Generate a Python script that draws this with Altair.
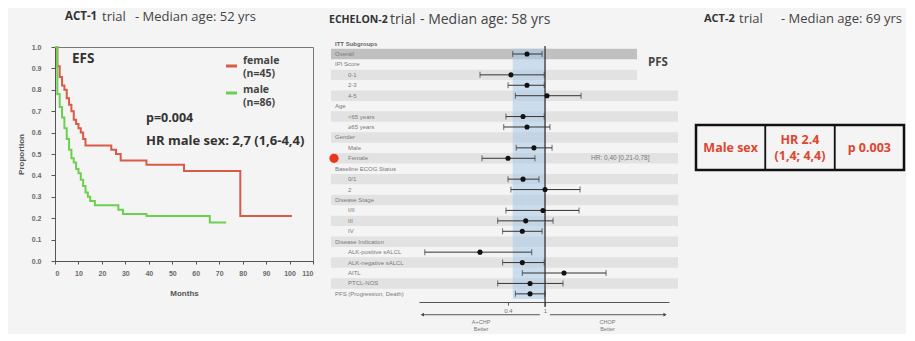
import altair as alt
import pandas as pd

# ---------------- ACT-1 : EFS Kaplan-Meier (months, proportion) ----------------
female_t = [0, 1, 2, 3, 4, 5, 6, 7, 8, 9, 10, 11, 12, 13, 24, 26, 28, 39, 55, 79, 101]
female_s = [1.0, 0.91, 0.86, 0.82, 0.80, 0.76, 0.73, 0.70, 0.66, 0.64, 0.62, 0.60,
            0.57, 0.54, 0.52, 0.50, 0.47, 0.45, 0.42, 0.21, 0.21]
male_t = [0, 1, 2, 3, 4, 5, 6, 7, 8, 9, 10, 11, 12, 13, 14, 15, 17, 27, 29, 39, 66, 73]
male_s = [1.0, 0.78, 0.72, 0.67, 0.62, 0.57, 0.52, 0.48, 0.46, 0.43, 0.41, 0.38,
          0.35, 0.32, 0.30, 0.28, 0.26, 0.24, 0.22, 0.21, 0.18, 0.18]
groups = ["female", "male"]
group_n = [45, 86]
group_colors = ["#d95b47", "#6dcf4f"]
km_ticks_x = list(range(0, 111, 10))
km_ticks_y = [i / 10 for i in range(11)]

# ---------------- ECHELON-2 : PFS forest plot (hazard ratios) ----------------
subgroups = ["Overall", "IPI Score", "0-1", "2-3", "4-5", "Age", "<65 years", "≥65 years",
             "Gender", "Male", "Female", "Baseline ECOG Status", "0/1", "2", "Disease Stage",
             "I/II", "III", "IV", "Disease Indication", "ALK-positive sALCL",
             "ALK-negative sALCL", "AITL", "PTCL-NOS", "PFS (Progression, Death)"]
indent = [0, 0, 1, 1, 1, 0, 1, 1, 0, 1, 1, 0, 1, 1, 0, 1, 1, 1, 0, 1, 1, 1, 1, 0]
hr = [0.64, None, 0.43, 0.64, 1.05, None, 0.58, 0.64, None, 0.76, 0.40, None, 0.58, 1.00,
      None, 0.95, 0.62, 0.57, None, 0.20, 0.57, 1.60, 0.69, 0.69]
hr_lo = [0.45, None, 0.20, 0.40, 0.48, None, 0.38, 0.36, None, 0.49, 0.21, None, 0.40, 0.43,
         None, 0.38, 0.31, 0.35, None, 0.051, 0.35, 0.57, 0.31, 0.48]
hr_hi = [0.93, None, 0.98, 0.98, 2.44, None, 0.98, 1.13, None, 1.19, 0.78, None, 0.86, 2.38,
         None, 2.32, 1.22, 0.93, None, 0.72, 0.98, 4.53, 1.56, 1.00]
highlight = "Female"
highlight_note = "HR: 0,40 [0,21-0,78]"
forest_ticks = [0.4, 1]
favor_labels = ["A+CHP\nBetter", "CHOP\nBetter"]

# ---------------- ACT-2 : table ----------------
table_cells = ["Male sex", "HR 2.4\n(1,4; 4,4)", "p 0.003"]

# ---------------- layout / style ----------------
BG = "#f4f4f4"
W1, H1 = 258, 214
W2, H2 = 347, 255
W3, H3 = 208, 201
SP = 18
FONT = "Open Sans"
TITLE_C = "#333333"


def txt(s, x, y, size, weight="normal", color="#333333", align="left",
        baseline="middle", font=FONT):
    return alt.Chart(pd.DataFrame({"t": [s]})).mark_text(
        align=align, baseline=baseline, fontSize=size, fontWeight=weight,
        color=color, font=font).encode(text="t:N", x=alt.value(x), y=alt.value(y))


def title_parts(name, age, xs3, y, name_size, reg_size, sep=" "):
    return [txt(name, xs3[0], y, name_size, "bold", TITLE_C),
            txt("trial", xs3[1], y, reg_size, "normal", "#444444"),
            txt(f"-{sep}Median age: {age} yrs", xs3[2], y, reg_size, "normal", "#444444")]


# ======== Panel 1 ========
km_df = pd.DataFrame({
    "t": female_t + male_t,
    "s": female_s + male_s,
    "group": ["female"] * len(female_t) + ["male"] * len(male_t),
})
color_scale = alt.Scale(domain=groups, range=group_colors)
axis_common = dict(labelFontSize=7, labelColor="#6a6a6a", labelFont="Liberation Sans",
                   labelFontWeight="bold", tickColor="#555555", domainColor="#555555",
                   titleFont="Liberation Sans", titleFontSize=8, titleFontWeight="bold",
                   titleColor="#555555", grid=False, labelOverlap=False)
km_lines = alt.Chart(km_df).mark_line(interpolate="step-after", strokeWidth=2).encode(
    x=alt.X("t:Q", scale=alt.Scale(domain=[0, 110], nice=False),
            axis=alt.Axis(values=km_ticks_x, title="Months", tickSize=3, labelPadding=5,
                          titlePadding=13, labelAngle=0, **axis_common)),
    y=alt.Y("s:Q", scale=alt.Scale(domain=[0, 1], nice=False),
            axis=alt.Axis(values=km_ticks_y, format=".1f", title="Proportion", tickSize=4,
                          labelPadding=10, titlePadding=6, **axis_common)),
    color=alt.Color("group:N", scale=color_scale, legend=None),
)

legend_layers = []
for i, (g, n) in enumerate(zip(groups, group_n)):
    ldf = pd.DataFrame({"group": [g], "name": [g], "n": [f"(n={n})"]})
    legend_layers.append(
        alt.Chart(ldf).mark_rule(strokeWidth=3).encode(
            x=alt.value(171), x2=alt.value(182), y=alt.value(19 + 27 * i),
            color=alt.Color("group:N", scale=color_scale, legend=None)))
    for j, field in enumerate(["name", "n"]):
        legend_layers.append(
            alt.Chart(ldf).mark_text(align="left", baseline="middle", fontSize=10.5,
                                     fontWeight="bold", color="#444444", font=FONT).encode(
                x=alt.value(188), y=alt.value(14.25 + 29 * i + 12.5 * j), text=f"{field}:N"))

panel1 = alt.layer(
    km_lines, *legend_layers,
    txt("EFS", 17, 12, 13.5, "bold", "#333333"),
    txt("p=0.004", 91, 71, 12.5, "bold", "#333333"),
    txt("HR male sex: 2,7 (1,6-4,4)", 91, 94, 13, "bold", "#333333"),
    *title_parts("ACT-1", 52, [10, 47, 80], -30, 11.5, 13),
).properties(width=W1, height=H1,
             view=alt.ViewBackground(stroke="#777777", strokeWidth=1))

# ======== Panel 2 ========
forest_df = pd.DataFrame({"label": subgroups, "row": list(range(len(subgroups))),
                          "indent": indent, "hr": hr, "lo": hr_lo, "hi": hr_hi})
ci_df = forest_df.dropna(subset=["hr"]).copy()

xs = alt.Scale(type="log", domain=[0.0442, 21.5], range=[88, 338], nice=False)
ys = alt.Scale(domain=[-0.67, 23.78], reverse=True, nice=False, zero=False)
xaxis = alt.Axis(values=forest_ticks, format="~g", title=None, labelFontSize=6,
                 labelColor="#777777", tickSize=3, tickColor="#555555",
                 domainColor="#555555", labelPadding=2, grid=False)


def X(field):
    return alt.X(field, scale=xs, axis=xaxis)


def Y(field):
    return alt.Y(field, scale=ys, axis=None)


band_base = alt.Chart(forest_df).transform_calculate(
    y0="datum.row - 0.5", y1="datum.row + 0.5")
bands_full = band_base.transform_filter("datum.row % 2 == 0 && datum.row > 2").mark_rect(
    color="#e2e2e2").encode(x=alt.value(0), x2=alt.value(W2), y=Y("y0:Q"), y2="y1:Q")
bands_short = band_base.transform_filter("datum.row % 2 == 0 && datum.row <= 2").mark_rect().encode(
    x=alt.value(0), x2=alt.value(306), y=Y("y0:Q"), y2="y1:Q",
    color=alt.condition("datum.row == 0", alt.value("#c0c0c0"), alt.value("#e2e2e2")))

blue_df = pd.DataFrame({"lo": [hr_lo[0]], "hi": [1.0], "y0": [-0.5],
                        "y1": [len(subgroups) - 0.5]})
blue = alt.Chart(blue_df).mark_rect(color="#a9c9e8", opacity=0.55).encode(
    x=X("lo:Q"), x2="hi:Q", y=Y("y0:Q"), y2="y1:Q")

ref_line = alt.Chart(pd.DataFrame({"x": [1.0]})).mark_rule(color="#333333", strokeWidth=1.3).encode(
    x=X("x:Q"), y=alt.value(-1), y2=alt.value(H2 + 5))

ci = alt.Chart(ci_df).mark_rule(color="#333333", strokeWidth=1).encode(
    x=X("lo:Q"), x2="hi:Q", y=Y("row:Q"))
cap_lo = alt.Chart(ci_df).mark_tick(orient="vertical", size=6, thickness=1, color="#333333").encode(
    x=X("lo:Q"), y=Y("row:Q"))
cap_hi = alt.Chart(ci_df).mark_tick(orient="vertical", size=6, thickness=1, color="#333333").encode(
    x=X("hi:Q"), y=Y("row:Q"))
pts = alt.Chart(ci_df).mark_circle(size=26, color="#111111", opacity=1).encode(
    x=X("hr:Q"), y=Y("row:Q"))

lab_main = alt.Chart(forest_df).transform_filter("datum.indent == 0").mark_text(
    align="left", baseline="middle", fontSize=6, color="#7a7a7a", font="Liberation Sans").encode(
    x=alt.value(4), y=Y("row:Q"), text="label:N")
lab_sub = alt.Chart(forest_df).transform_filter("datum.indent == 1").mark_text(
    align="left", baseline="middle", fontSize=6, color="#7a7a7a", font="Liberation Sans").encode(
    x=alt.value(17), y=Y("row:Q"), text="label:N")
header = alt.Chart(pd.DataFrame({"t": ["ITT Subgroups"], "row": [-1]})).mark_text(
    align="left", baseline="middle", fontSize=6, fontWeight="bold", color="#666666",
    font="Liberation Sans").encode(x=alt.value(4), y=Y("row:Q"), text="t:N")

hl_df = forest_df[forest_df["label"] == highlight].copy()
hl_df["note"] = highlight_note
red_dot = alt.Chart(hl_df).mark_circle(size=85, color="#e8361f", opacity=1).encode(
    x=alt.value(3), y=Y("row:Q"))
note = alt.Chart(hl_df).mark_text(align="left", baseline="middle", fontSize=6.5,
                                  color="#777777", font="Liberation Sans").encode(
    x=alt.value(260), y=Y("row:Q"), text="note:N")

favor_df = pd.DataFrame({"x": [0.048, 1.13], "x2": [0.88, 19.5], "label": favor_labels,
                         "head": [0.048, 19.5], "shape": ["triangle-left", "triangle-right"],
                         "yr": [25.0, 25.0], "yt": [25.55, 25.55]})
favor_df["mid"] = (favor_df["x"] * favor_df["x2"]) ** 0.5
favor_rule = alt.Chart(favor_df).mark_rule(color="#555555", strokeWidth=1).encode(
    x=X("x:Q"), x2="x2:Q", y=Y("yr:Q"))
favor_head = alt.Chart(favor_df).mark_point(filled=True, size=14, color="#444444", opacity=1).encode(
    x=X("head:Q"), y=Y("yr:Q"),
    shape=alt.Shape("shape:N", scale=None, legend=None))
favor_text = alt.Chart(favor_df).mark_text(align="center", baseline="top", fontSize=5.5,
                                           color="#777777", lineBreak="\n", lineHeight=7,
                                           font="Liberation Sans").encode(
    x=X("mid:Q"), y=Y("yt:Q"), text="label:N")

panel2 = alt.layer(
    bands_full, bands_short, blue, ref_line, ci, cap_lo, cap_hi, pts,
    lab_main, lab_sub, header, red_dot, note, favor_rule, favor_head, favor_text,
    txt("PFS", 327, 16, 11.5, "bold", "#444444", align="center"),
    *title_parts("ECHELON-2", 58, [-2, 59, 89], -27.5, 10.5, 14, sep="  "),
).properties(width=W2, height=H2)

# ======== Panel 3 ========
cells_df = pd.DataFrame({"col": list(range(len(table_cells))), "text": table_cells,
                         "row": [table_cells[0]] * len(table_cells),
                         "nl": [t.count("\n") + 1 for t in table_cells]})
tx = alt.X("col:O", scale=alt.Scale(paddingInner=0, paddingOuter=0), axis=None)
ty = alt.Y("row:N", scale=alt.Scale(paddingInner=0.423, paddingOuter=1), axis=None)
cells = alt.Chart(cells_df).mark_rect(fillOpacity=0, stroke="#111111", strokeWidth=1.5).encode(
    x=tx, y=ty)
outer = alt.Chart(cells_df.iloc[:1]).mark_rect(fillOpacity=0, stroke="#111111", strokeWidth=2.5).encode(
    y=ty)
text_style = dict(align="center", baseline="middle", fontSize=12.5, fontWeight="bold",
                  color="#e0452f", font=FONT, lineBreak="\n", lineHeight=16)
cell_text1 = alt.Chart(cells_df).transform_filter("datum.nl == 1").mark_text(**text_style).encode(
    x=tx, y=ty, text="text:N")
cell_text2 = alt.Chart(cells_df).transform_filter("datum.nl == 2").mark_text(dy=-8, **text_style).encode(
    x=tx, y=ty, text="text:N")

panel3 = alt.layer(
    cells, outer, cell_text1, cell_text2,
    *title_parts("ACT-2", 69, [8, 43, 85], -28, 11, 13),
).properties(width=W3, height=H3)

chart = alt.hconcat(panel1, panel2, panel3, spacing=SP, bounds="flush").properties(
    background=BG,
    padding={"left": 8, "top": 2, "right": 0, "bottom": 0},
).configure_view(stroke="transparent")

chart.save("out.html", embed_options={"renderer": "svg", "actions": False})
